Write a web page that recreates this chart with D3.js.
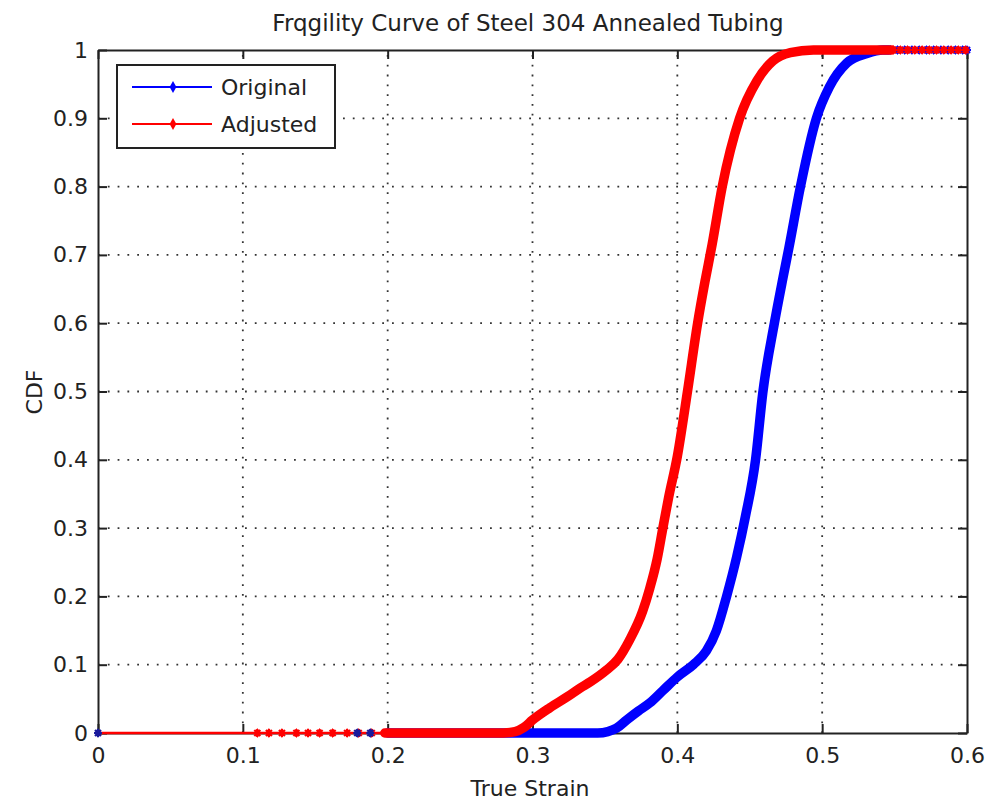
<!DOCTYPE html>
<html>
<head>
<meta charset="utf-8">
<script src="https://cdn.jsdelivr.net/npm/d3@7"></script>
<style>
  html, body { margin: 0; padding: 0; background: #fff; }
  svg { display: block; }
  text { font-family: "DejaVu Sans", sans-serif; fill: #222; }
</style>
</head>
<body>
<svg id="chart" width="985" height="802"></svg>
<script>
// ---------- data ----------
const titleText = "Frqgility Curve of Steel 304 Annealed Tubing";
const xLabelText = "True Strain";
const yLabelText = "CDF";
const seriesNames = ["Original", "Adjusted"];

const xTicks = [0, 0.1, 0.2, 0.3, 0.4, 0.5, 0.6];
const xTickLabels = ["0", "0.1", "0.2", "0.3", "0.4", "0.5", "0.6"];
const yTicks = [0, 0.1, 0.2, 0.3, 0.4, 0.5, 0.6, 0.7, 0.8, 0.9, 1];
const yTickLabels = ["0", "0.1", "0.2", "0.3", "0.4", "0.5", "0.6", "0.7", "0.8", "0.9", "1"];

// Original (blue): [true strain, CDF]
const originalCurve = [
  [0.200, 0.000], [0.300, 0.000], [0.345, 0.000], [0.352, 0.002], [0.358, 0.007],
  [0.365, 0.019], [0.373, 0.032], [0.381, 0.044], [0.390, 0.062], [0.400, 0.082],
  [0.411, 0.100], [0.420, 0.120], [0.427, 0.150], [0.434, 0.200], [0.441, 0.258],
  [0.447, 0.317], [0.454, 0.400], [0.459, 0.498], [0.467, 0.600], [0.473, 0.667],
  [0.477, 0.710], [0.485, 0.800], [0.496, 0.900], [0.505, 0.946], [0.517, 0.981],
  [0.531, 0.995], [0.542, 1.000], [0.546, 1.000]
];
const originalSparse = [[0.000, 0], [0.179, 0], [0.188, 0]];
const originalTopX = [0.547, 0.552, 0.557, 0.562, 0.567, 0.572, 0.577, 0.582, 0.587, 0.592, 0.597, 0.600];

// Adjusted (red): [true strain, CDF]
const adjustedThin = [[0.000, 0], [0.110, 0], [0.200, 0]];
const adjustedSparse = [[0.110, 0], [0.118, 0], [0.127, 0], [0.137, 0], [0.145, 0],
  [0.153, 0], [0.162, 0], [0.172, 0], [0.180, 0], [0.189, 0]];
const adjustedCurve = [
  [0.198, 0.000], [0.280, 0.000], [0.288, 0.002], [0.294, 0.008], [0.300, 0.019],
  [0.312, 0.037], [0.324, 0.053], [0.333, 0.066], [0.340, 0.075], [0.351, 0.092],
  [0.359, 0.108], [0.367, 0.136], [0.376, 0.178], [0.381, 0.212], [0.386, 0.254],
  [0.390, 0.300], [0.394, 0.345], [0.400, 0.405], [0.407, 0.500], [0.414, 0.600],
  [0.419, 0.660], [0.424, 0.715], [0.431, 0.800], [0.443, 0.900], [0.455, 0.955],
  [0.466, 0.984], [0.478, 0.996], [0.494, 1.000], [0.548, 1.000]
];
const adjustedTopX = [0.549, 0.554, 0.559, 0.564, 0.569, 0.574, 0.579, 0.584, 0.589, 0.594, 0.599];

// ---------- layout ----------
const svg = d3.select("#chart");
const X0 = 98, X1 = 967, Y0 = 733, Y1 = 50;
const x = d3.scaleLinear().domain([0, 0.6]).range([X0, X1]);
const y = d3.scaleLinear().domain([0, 1]).range([Y0, Y1]);
const BLUE = "#0000ff", RED = "#ff0000";

svg.append("rect").attr("width", 985).attr("height", 802).attr("fill", "#fff");

// grid
const grid = svg.append("g").attr("stroke", "#333").attr("stroke-width", 1.8)
  .attr("stroke-dasharray", "1.8,8");
grid.selectAll(".gx").data(xTicks.slice(1, -1)).join("line")
  .attr("x1", d => x(d)).attr("x2", d => x(d)).attr("y1", Y0).attr("y2", Y1);
grid.selectAll(".gy").data(yTicks.slice(1, -1)).join("line")
  .attr("y1", d => y(d)).attr("y2", d => y(d)).attr("x1", X0).attr("x2", X1);

// axes via d3 axis (inner ticks, mirrored)
const fmtX = (d, i) => xTickLabels[i];
const fmtY = (d, i) => yTickLabels[i];
const axB = svg.append("g").attr("transform", `translate(0,${Y0})`)
  .call(d3.axisBottom(x).tickValues(xTicks).tickFormat(fmtX).tickSizeInner(-9).tickSizeOuter(0).tickPadding(14));
const axT = svg.append("g").attr("transform", `translate(0,${Y1})`)
  .call(d3.axisTop(x).tickValues(xTicks).tickFormat("").tickSizeInner(-9).tickSizeOuter(0));
const axL = svg.append("g").attr("transform", `translate(${X0},0)`)
  .call(d3.axisLeft(y).tickValues(yTicks).tickFormat(fmtY).tickSizeInner(-9).tickSizeOuter(0).tickPadding(10));
const axR = svg.append("g").attr("transform", `translate(${X1},0)`)
  .call(d3.axisRight(y).tickValues(yTicks).tickFormat("").tickSizeInner(-9).tickSizeOuter(0));
[axB, axT, axL, axR].forEach(g => {
  g.select(".domain").attr("stroke", "#222").attr("stroke-width", 2);
  g.selectAll(".tick line").attr("stroke", "#222").attr("stroke-width", 2);
  g.selectAll(".tick text").attr("font-size", 22).attr("fill", "#222")
    .style("font-family", "'DejaVu Sans', sans-serif");
});
axB.selectAll(".tick text").attr("dy", "0.71em");

// series drawing
const line = d3.line().x(d => x(d[0])).y(d => y(d[1])).curve(d3.curveMonotoneX);
const straight = d3.line().x(d => x(d[0])).y(d => y(d[1]));
const star = "M-4,0H4M0,-4V4M-3,-3L3,3M-3,3L3,-3";
const plot = svg.append("g");

function drawMarkers(pts, color) {
  plot.append("g").selectAll("path").data(pts).join("path")
    .attr("transform", d => `translate(${x(d[0])},${y(d[1])})`)
    .attr("d", star).attr("stroke", color).attr("stroke-width", 2.2).attr("fill", "none");
  plot.append("g").selectAll("path").data(pts).join("path")
    .attr("transform", d => `translate(${x(d[0])},${y(d[1])})`)
    .attr("d", d3.symbol(d3.symbolDiamond, 30)()).attr("fill", color);
}

// Original (blue) underneath
plot.append("path").datum(originalCurve).attr("d", line)
  .attr("fill", "none").attr("stroke", BLUE).attr("stroke-width", 9.5)
  .attr("stroke-linejoin", "round").attr("stroke-linecap", "round");
drawMarkers(originalTopX.map(v => [v, 1]), BLUE);

// Adjusted (red)
plot.append("path").datum(adjustedThin).attr("d", straight)
  .attr("fill", "none").attr("stroke", RED).attr("stroke-width", 2.5);
drawMarkers(adjustedSparse, RED);
plot.append("path").datum(adjustedCurve).attr("d", line)
  .attr("fill", "none").attr("stroke", RED).attr("stroke-width", 9.5)
  .attr("stroke-linejoin", "round").attr("stroke-linecap", "round");
drawMarkers(adjustedTopX.map(v => [v, 1]), RED);
drawMarkers(originalSparse, "#1a1a9c");

// title & labels
svg.append("text").attr("x", 528).attr("y", 31).attr("text-anchor", "middle")
  .attr("font-size", 23).text(titleText);
svg.append("text").attr("x", 530).attr("y", 796).attr("text-anchor", "middle")
  .attr("font-size", 22).text(xLabelText);
svg.append("text").attr("transform", "translate(42,392) rotate(-90)")
  .attr("text-anchor", "middle").attr("font-size", 22).text(yLabelText);

// legend
const lg = svg.append("g");
lg.append("rect").attr("x", 117).attr("y", 65).attr("width", 218).attr("height", 83)
  .attr("fill", "#fff").attr("stroke", "#222").attr("stroke-width", 2);
const legendColors = [BLUE, RED];
seriesNames.forEach((name, i) => {
  const ly = 87 + i * 37;
  lg.append("line").attr("x1", 132).attr("x2", 212).attr("y1", ly).attr("y2", ly)
    .attr("stroke", legendColors[i]).attr("stroke-width", 2);
  lg.append("path").attr("transform", `translate(173,${ly})`)
    .attr("d", d3.symbol(d3.symbolDiamond, 40)()).attr("fill", legendColors[i]);
  lg.append("text").attr("x", 221).attr("y", ly + 8).attr("font-size", 22).text(name);
});
</script>
</body>
</html>
